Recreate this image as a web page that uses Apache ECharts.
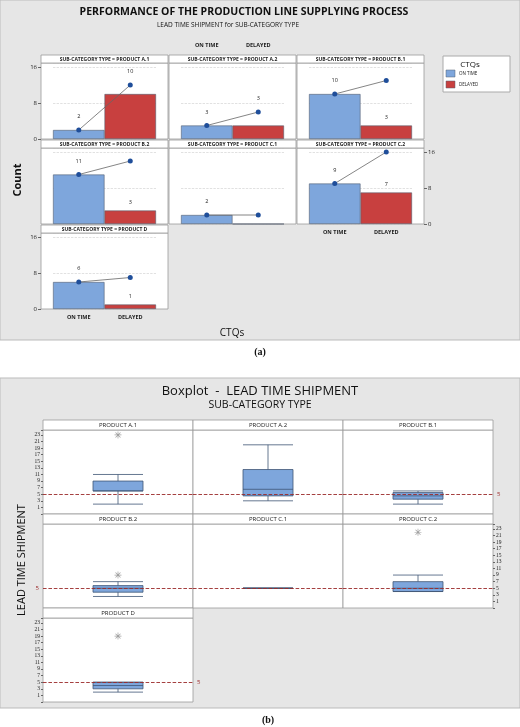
<!DOCTYPE html>
<html>
<head>
<meta charset="utf-8">
<script src="https://cdn.jsdelivr.net/npm/echarts@6/dist/echarts.min.js"></script>
<style>html,body{margin:0;padding:0;background:#fff}#main{width:520px;height:727px}</style>
</head>
<body>
<div id="main"></div>
<script>
// data
var products = ['PRODUCT A.1','PRODUCT A.2','PRODUCT B.1','PRODUCT B.2','PRODUCT C.1','PRODUCT C.2','PRODUCT D'];
var ctqs = ['ON TIME','DELAYED'];
var onTime = [2, 3, 10, 11, 2, 9, 6];
var delayed = [10, 3, 3, 3, 0, 7, 1];
var cumLine = [12, 6, 13, 14, 2, 16, 7];
// [min, Q1, median, Q3, max]
var boxData = [[2,6,6,9,11],[3,4.5,6.5,12.5,20],[2,3.5,4.5,5.5,6],[2.5,3.8,5,5.8,7],[5,5,5,5,5],[4,4,5,7,9],[2,3,4,5,5]];
var outliers = [[23],[],[],[9],[],[22],[19]];
var refValue = 5;

var blue = '#7ea6dc', red = '#c8403f', edge = '#556070';
var FONT = 'Open Sans';
var chart = echarts.init(document.getElementById('main'));

var grids=[], xAxes=[], yAxes=[], series=[], graphic=[];

// background panels and texts
graphic.push({type:'rect',z:-10,shape:{x:0,y:0,width:520,height:340},style:{fill:'#e6e6e6',stroke:'#bbb'}});
graphic.push({type:'rect',z:-10,shape:{x:0,y:378,width:520,height:330},style:{fill:'#e6e6e6',stroke:'#bbb'}});
function txt(x,y,s,size,opt){
    var o = {type:'text',x:x,y:y,z:10,style:{text:s,fontSize:size,fontFamily:FONT,fill:'#111',align:'center',verticalAlign:'middle',fontWeight:(opt&&opt.bold)?'bold':'normal'}};
    if(opt && opt.rot){o.rotation=Math.PI/2;}
    if(opt && opt.serif){o.style.fontFamily='Liberation Serif';}
    graphic.push(o);
}
txt(244,12,'PERFORMANCE OF THE PRODUCTION LINE SUPPLYING PROCESS',10.5,{bold:true});
txt(228,25,'LEAD TIME SHIPMENT for SUB-CATEGORY TYPE',6.5);
txt(18,180,'Count',11,{bold:true,rot:true});
txt(232,333,'CTQs',10);
txt(260,352,'(a)',10,{bold:true,serif:true});
txt(260,391,'Boxplot  -  LEAD TIME SHIPMENT',13);
txt(260,405,'SUB-CATEGORY TYPE',10.5);
txt(22,560,'LEAD TIME SHIPMENT',11,{rot:true});
txt(268,720,'(b)',10,{bold:true,serif:true});

// legend box
graphic.push({type:'rect',shape:{x:443,y:56,width:67,height:36},style:{fill:'#fff',stroke:'#aaa'}});
txt(470,65,'CTQs',8);
graphic.push({type:'rect',shape:{x:446,y:70,width:9,height:7},style:{fill:blue,stroke:edge,lineWidth:0.5}});
graphic.push({type:'rect',shape:{x:446,y:81,width:9,height:7},style:{fill:red,stroke:edge,lineWidth:0.5}});
graphic.push({type:'text',x:459,y:74,style:{text:'ON TIME',fontSize:4.5,fontFamily:FONT,fill:'#222',verticalAlign:'middle'}});
graphic.push({type:'text',x:459,y:85,style:{text:'DELAYED',fontSize:4.5,fontFamily:FONT,fill:'#222',verticalAlign:'middle'}});

function strip(x,y,w,h,s,size,bold){
    graphic.push({type:'rect',z:1,shape:{x:x,y:y,width:w,height:h},style:{fill:'#fff',stroke:'#999',lineWidth:0.8}});
    graphic.push({type:'text',z:2,x:x+w/2,y:y+h/2+0.5,style:{text:s,fontSize:size,fontFamily:FONT,fontWeight:bold?'bold':'normal',fill:'#222',align:'center',verticalAlign:'middle'}});
}

var lblStyle = {fontSize:5.5,fontFamily:FONT,color:'#222'};

// (a) bar trellis
var colA=[41,169,297], rowA=[55,140,225];
products.forEach(function(p,i){
    var c=i%3, r=Math.floor(i/3), g=grids.length;
    var px=colA[c], py=rowA[r];
    graphic.push({type:'rect',z:0,shape:{x:px,y:py+8,width:127,height:76},style:{fill:'#fff',stroke:'#999',lineWidth:0.8}});
    strip(px,py,127,8,'SUB-CATEGORY TYPE = '+p,5,true);
    grids.push({left:px+12,top:py+8,width:103,height:76,z:3});
    var showBottom = (i===5||i===6), showTop = (i===1);
    xAxes.push({type:'category',gridIndex:g,data:ctqs,position:showTop?'top':'bottom',offset:showTop?10:0,
        axisLine:{show:false},axisTick:{show:false},
        axisLabel:{show:showBottom||showTop,fontSize:5.5,fontWeight:'bold',fontFamily:FONT,color:'#222',margin:5}});
    var yLeft = (i===0||i===6), yRight=(i===5);
    yAxes.push({type:'value',gridIndex:g,min:0,max:16.9,interval:8,position:yRight?'right':'left',offset:12,
        axisLine:{show:false},axisTick:{show:yLeft||yRight,length:3,lineStyle:{color:'#666'}},
        axisLabel:{show:yLeft||yRight,fontSize:6,fontFamily:FONT,color:'#222',margin:4},
        splitLine:{show:true,lineStyle:{type:'dashed',color:'#ccc',width:0.6}}});
    // delayed label sits above the line point when the point is close to the bar top
    var delayedOnLine = delayed[i] > 0 && (cumLine[i] - delayed[i]) <= 4;
    series.push({type:'bar',xAxisIndex:g,yAxisIndex:g,barCategoryGap:'0%',
        data:[{value:onTime[i],itemStyle:{color:blue},label:{show:false}},
              {value:delayed[i],itemStyle:{color:red},label:{show:delayed[i]>0 && !delayedOnLine}}],
        itemStyle:{borderColor:edge,borderWidth:0.6},
        label:Object.assign({position:'top',distance:5},lblStyle)});
    series.push({type:'line',xAxisIndex:g,yAxisIndex:g,symbol:'circle',symbolSize:5,
        data:[{value:cumLine[i]-delayed[i],label:{show:true,formatter:String(onTime[i])}},
              {value:cumLine[i],label:{show:delayedOnLine,formatter:String(delayed[i])}}],
        label:Object.assign({position:'top',distance:8},lblStyle),
        lineStyle:{color:'#666',width:0.8},itemStyle:{color:'#1f4e9a'},z:5});
});

// (b) boxplot trellis
var colB=[43,193,343], rowB=[420,514,608];
var star='path://M4.5,0h1v10h-1z M0,4.5h10v1H0z M1.1,1.8l0.7,-0.7l7.1,7.1l-0.7,0.7z M8.2,1.1l0.7,0.7l-7.1,7.1l-0.7,-0.7z';
products.forEach(function(p,i){
    var c=i%3, r=Math.floor(i/3), g=grids.length;
    var px=colB[c], py=rowB[r];
    graphic.push({type:'rect',z:0,shape:{x:px,y:py+10,width:150,height:84},style:{fill:'#fff',stroke:'#999',lineWidth:0.8}});
    strip(px,py,150,10,p,6,false);
    grids.push({left:px,top:py+10,width:150,height:84,z:3});
    xAxes.push({type:'category',gridIndex:g,data:[p],axisLine:{show:false},axisTick:{show:false},axisLabel:{show:false}});
    var yLeft=(c===0&&i!==3), yRight=(i===5);
    yAxes.push({type:'value',gridIndex:g,min:-1,max:24.5,interval:2,position:yRight?'right':'left',
        axisLine:{show:false},axisTick:{show:yLeft||yRight,length:2,lineStyle:{color:'#666'}},
        axisLabel:{show:yLeft||yRight,fontSize:5.5,fontFamily:'Liberation Serif',color:'#222',margin:3,
            formatter:function(v){return v>=1&&v<=23?v:'';}},
        splitLine:{show:false}});
    var labelPos = (i===3)?'start':((i===2||i===6)?'end':null);
    series.push({type:'boxplot',xAxisIndex:g,yAxisIndex:g,boxWidth:[50,50],data:[boxData[i]],
        itemStyle:{color:blue,borderColor:'#3f5675',borderWidth:0.8},
        markLine:{silent:true,symbol:'none',data:[{yAxis:refValue}],
            lineStyle:{type:'dashed',color:'#9b2a2a',width:0.9},
            label:{show:!!labelPos,position:labelPos||'end',formatter:String(refValue),fontSize:6,color:'#9b2a2a',distance:4}}});
    series.push({type:'scatter',xAxisIndex:g,yAxisIndex:g,symbol:star,symbolSize:7,
        itemStyle:{color:'#888'},data:outliers[i].map(function(v){return [0,v];})});
});

chart.setOption({
    animation:false,
    textStyle:{fontFamily:FONT},
    grid:grids, xAxis:xAxes, yAxis:yAxes, series:series, graphic:graphic
});
</script>
</body>
</html>
